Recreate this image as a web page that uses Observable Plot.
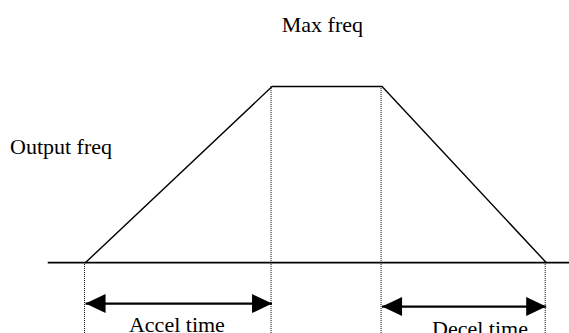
<!DOCTYPE html>
<html>
<head>
<meta charset="utf-8">
<script src="https://cdn.jsdelivr.net/npm/d3@7"></script>
<script src="https://cdn.jsdelivr.net/npm/@observablehq/plot@0.6"></script>
<style>
  html, body { margin: 0; padding: 0; background: #fff; }
  #chart svg { display: block; }
</style>
</head>
<body>
<div id="chart"></div>
<script>
// Profile (time units, frequency in % of max)
const phaseTimes = [0, 10, 15.9, 24.7];     // start, end of accel, start of decel, stop
const phaseFreq  = [0, 100, 100, 0];
const axisTimes  = [-2, 26];                 // horizontal time axis extent
const guideTimes = [0, 10, 15.9, 24.7];      // dotted guides
const guideTops  = [0, 100, 100, 0];
const spanNames  = ["Accel time", "Decel time"];
const spanFrom   = [0, 15.9];
const spanTo     = [10, 24.7];
const spanLevel  = [-23.3, -25];
const labelText  = ["Max freq", "Output freq", "Accel time", "Decel time"];
const labelX     = [12.7, -4.05, 4.9, 21.15];
const labelY     = [131, 61.5, -39.2, -42];
const labelAnchor = ["middle", "start", "middle", "middle"];

const xDomain = [-4.56, 25.95];
const yDomain = [-40.3, 148.9];

const profile = phaseTimes.map((t, i) => ({t, f: phaseFreq[i]}));
const guides = guideTimes.map((t, i) => ({t, top: guideTops[i], bottom: yDomain[0]}));
const spans = spanNames.map((name, i) => ({name, x1: spanFrom[i], x2: spanTo[i], y: spanLevel[i]}));
const heads = spans.flatMap(s => [{x: s.x1, y: s.y, rot: 180}, {x: s.x2, y: s.y, rot: 0}]);
const labels = labelText.map((text, i) => ({text, x: labelX[i], y: labelY[i], anchor: labelAnchor[i]}));

// filled arrowhead with tip at origin, pointing right
const headSymbol = {
  draw(context, size) {
    const L = 20, H = 9.5;
    context.moveTo(0, 0);
    context.lineTo(-L, -H);
    context.lineTo(-L, H);
    context.closePath();
  }
};

const font = "'Liberation Serif', 'Times New Roman', serif";
const textMark = anchor => Plot.text(labels.filter(d => d.anchor === anchor), {
  x: "x", y: "y", text: "text", textAnchor: anchor, lineAnchor: "bottom",
  fontFamily: font, fontSize: 22, fill: "#000"
});

const chart = Plot.plot({
  width: 569,
  height: 333,
  marginTop: 0, marginRight: 0, marginBottom: 0, marginLeft: 0,
  x: {domain: xDomain, axis: null},
  y: {domain: yDomain, axis: null},
  style: {background: "#fff"},
  marks: [
    Plot.ruleX(guides, {x: "t", y1: "top", y2: "bottom", stroke: "#000", strokeWidth: 1, strokeDasharray: "1,1", dx: -1}),
    Plot.ruleY([0], {x1: axisTimes[0], x2: axisTimes[1], stroke: "#000", strokeWidth: 1.8}),
    Plot.line(profile, {x: "t", y: "f", stroke: "#000", strokeWidth: 1.4}),
    Plot.link(spans, {x1: "x1", x2: "x2", y1: "y", y2: "y", stroke: "#000", strokeWidth: 2.2}),
    Plot.dot(heads, {x: "x", y: "y", symbol: headSymbol, rotate: "rot", r: 10, fill: "#000", stroke: "none"}),
    textMark("middle"),
    textMark("start")
  ]
});

document.getElementById("chart").appendChild(chart);
</script>
</body>
</html>
